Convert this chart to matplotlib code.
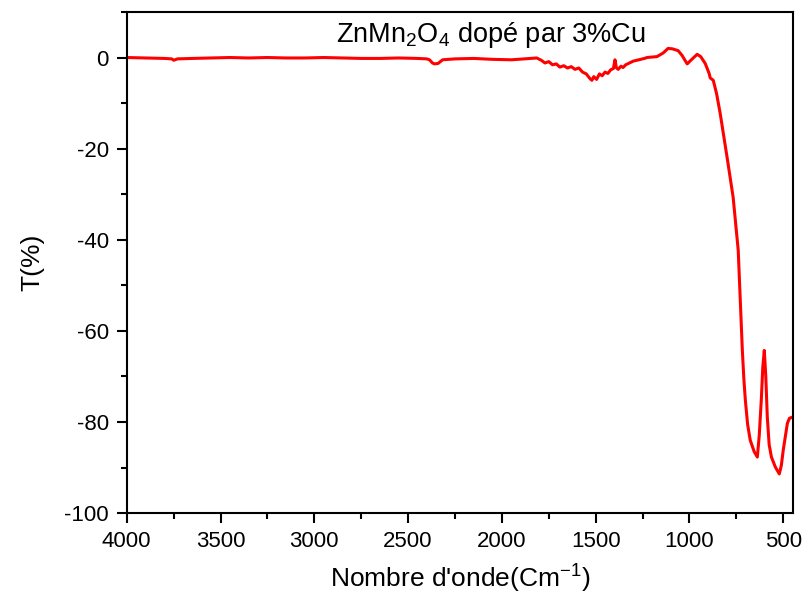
import matplotlib
matplotlib.use("Agg")
import matplotlib.pyplot as plt
from matplotlib.ticker import MultipleLocator

plt.rcParams['font.family'] = ['Liberation Sans', 'DejaVu Sans']
plt.rcParams['axes.unicode_minus'] = False
plt.rcParams['mathtext.fontset'] = 'custom'
plt.rcParams['mathtext.rm'] = 'Liberation Sans'
plt.rcParams['mathtext.it'] = 'Liberation Sans'

# FTIR spectrum
wavenumber = [4000, 3900, 3800, 3760, 3749, 3730, 3650, 3550, 3450, 3350, 3250, 3150,
              3050, 2950, 2850, 2750, 2650, 2550, 2450, 2400, 2386, 2370, 2359, 2340,
              2316, 2250, 2150, 2050, 1950, 1880, 1814, 1790, 1770, 1750, 1730, 1710,
              1691, 1670, 1650, 1630, 1610, 1590, 1570, 1550, 1531, 1520, 1510, 1495,
              1480, 1465, 1450, 1435, 1420, 1405, 1397, 1390, 1380, 1365, 1354, 1340,
              1320, 1300, 1270, 1240, 1226, 1200, 1173, 1140, 1114, 1090, 1060, 1040,
              1012, 990, 959, 940, 916, 895, 889, 873, 855, 836, 820, 799, 767, 740,
              729, 718, 710, 702, 690, 676, 655, 638, 628, 617, 609, 601, 593, 585,
              575, 563, 542, 521, 510, 500, 478, 467, 455]
transmittance = [0.0, -0.1, -0.2, -0.3, -0.6, -0.3, -0.2, -0.1, 0.0, -0.1, 0.0, -0.1,
                 -0.1, 0.0, -0.1, -0.2, -0.2, -0.1, -0.2, -0.3, -0.5, -1.2, -1.4, -1.3,
                 -0.5, -0.3, -0.2, -0.4, -0.5, -0.3, -0.1, -0.6, -1.2, -0.9, -1.6, -1.4,
                 -2.1, -1.8, -2.3, -2.0, -2.6, -2.3, -3.2, -3.6, -4.6, -5.0, -4.2, -4.8,
                 -3.6, -4.0, -3.2, -3.5, -2.7, -2.4, -0.5, -2.2, -2.6, -1.9, -2.2, -1.6,
                 -1.2, -0.8, -0.5, -0.2, 0.0, 0.1, 0.2, 1.0, 2.0, 1.9, 1.5, 0.5,
                 -1.4, -0.5, 0.7, 0.2, -1.3, -3.5, -4.5, -5.0, -8.0, -12.3, -16.5, -22.0, -30.7, -42.3,
                 -53.3, -64.3, -70.5, -75.2, -80.5, -84.0, -86.5, -87.7, -83.0, -75.2, -68.0, -64.3, -70.0, -78.9,
                 -85.0, -87.7, -89.9, -91.4, -89.5, -86.2, -80.3, -79.2, -79.0]

fig = plt.figure(figsize=(8.02, 5.98), dpi=100)
ax = fig.add_axes([0.158, 0.142, 0.831, 0.838])
ax.plot(wavenumber, transmittance, color='red', lw=2.2)

ax.set_xlim(4000, 447)
ax.set_ylim(-100, 10)
ax.xaxis.set_major_locator(MultipleLocator(500))
ax.xaxis.set_minor_locator(MultipleLocator(250))
ax.yaxis.set_major_locator(MultipleLocator(20))
ax.yaxis.set_minor_locator(MultipleLocator(10))
ax.tick_params(which='major', direction='out', length=7, width=1.5, labelsize=16, pad=6)
ax.tick_params(which='minor', direction='out', length=4, width=1.5)
for s in ax.spines.values():
    s.set_linewidth(1.5)

ax.set_xlabel("Nombre d'onde(Cm$^{-1}$)", fontsize=19, labelpad=8)
ax.set_ylabel("T(%)", fontsize=19, labelpad=14)
ax.text(0.546, 0.955, "ZnMn$_2$O$_4$ dopé par 3%Cu", transform=ax.transAxes,
        ha='center', va='center', fontsize=19.5)

fig.savefig("out.png", dpi=100)
